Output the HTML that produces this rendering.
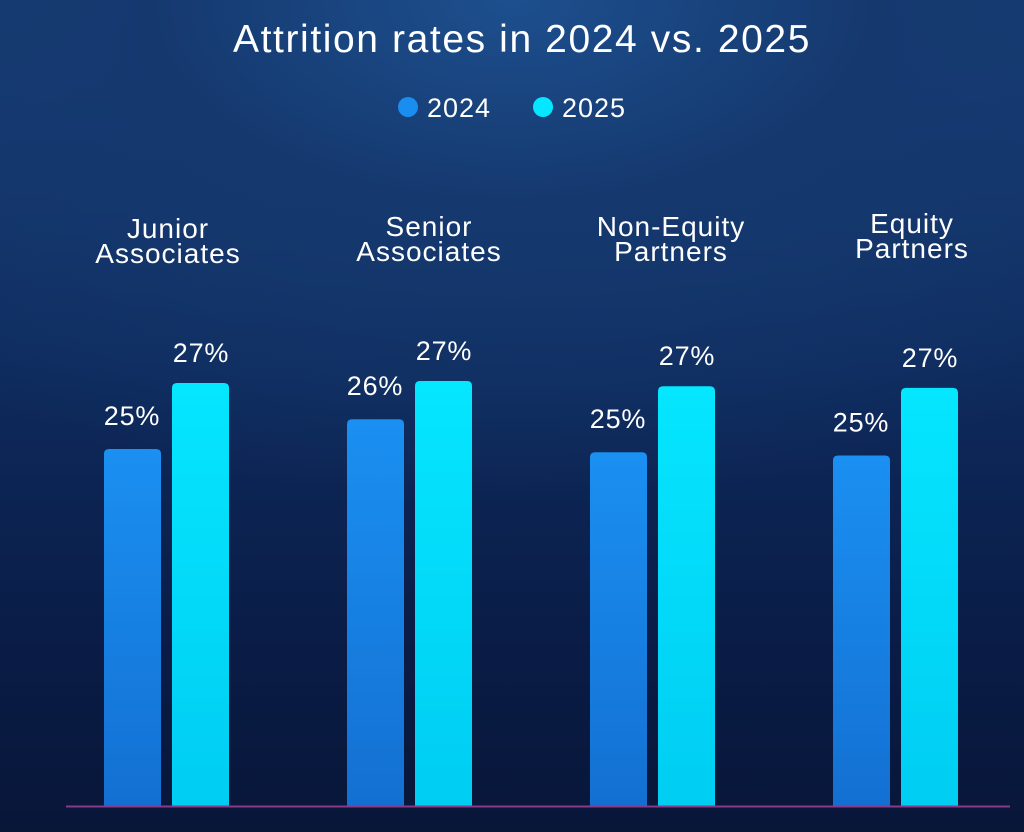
<!DOCTYPE html>
<html><head><meta charset="utf-8"><style>
html,body{margin:0;padding:0}
body{width:1024px;height:832px;overflow:hidden;font-family:"Liberation Sans",sans-serif;
background:radial-gradient(ellipse 900px 500px at 50% 0%,#1d4f8e 0%,#15396f 40%,rgba(10,26,64,0) 100%),linear-gradient(#163e78 0%,#0e2a5c 45%,#0a1d48 75%,#081638 100%);}
svg{position:absolute;left:0;top:0}
</style></head><body>
<svg width="1024" height="832">
<defs>
<linearGradient id="g24" x1="0" y1="0" x2="0" y2="1"><stop offset="0" stop-color="#1a90f2"/><stop offset="1" stop-color="#1370d2"/></linearGradient>
<linearGradient id="g25" x1="0" y1="0" x2="0" y2="1"><stop offset="0" stop-color="#05e6ff"/><stop offset="1" stop-color="#00cdf2"/></linearGradient>
</defs>
<text x="522" y="52" fill="#fff" font-size="39" letter-spacing="1.6" text-anchor="middle">Attrition rates in 2024 vs. 2025</text>
<g>
<circle cx="408" cy="107" r="10" fill="#1a8ef0"/>
<text x="427" y="117" fill="#fff" font-size="27" letter-spacing="1">2024</text>
<circle cx="543" cy="107" r="10" fill="#05e6ff"/>
<text x="562" y="117" fill="#fff" font-size="27" letter-spacing="1">2025</text>
</g>
<g id="plot"></g>
<line x1="66" y1="806.5" x2="1010" y2="806.5" stroke="#8a3a8a" stroke-width="2"/>
</svg>
<script>
const categories=[["Junior","Associates"],["Senior","Associates"],["Non-Equity","Partners"],["Equity","Partners"]];
const values2024=[25.0,25.9,24.9,24.8];
const values2025=[27.0,27.06,26.9,26.85];
const labels2024=["25%","26%","25%","25%"];
const labels2025=["27%","27%","27%","27%"];
const base=806, vmin=14.18, k=33;
const labelOffset=[64,82,81,79];
const labelTop=[238,236,236,233];
function y(v){return base-(v-vmin)*k;}
function x(i){return 104+i*243;}
const ns="http://www.w3.org/2000/svg";
const plot=document.getElementById('plot');
function bar(bx,v,fill,name){
  const t=y(v),w=57,r=5;
  const p=document.createElementNS(ns,'path');
  p.setAttribute('d',`M${bx},${base} V${t+r} Q${bx},${t} ${bx+r},${t} H${bx+w-r} Q${bx+w},${t} ${bx+w},${t+r} V${base} Z`);
  p.setAttribute('fill',fill);
  
  
  plot.appendChild(p);
}
function txt(tx,ty,s,size,ls,name){
  const e=document.createElementNS(ns,'text');
  e.setAttribute('x',tx);e.setAttribute('y',ty);e.setAttribute('fill','#fff');
  e.setAttribute('font-size',size);e.setAttribute('text-anchor','middle');
  e.setAttribute('letter-spacing',ls);
  e.textContent=s;
  
  
  plot.appendChild(e);
}
categories.forEach((c,i)=>{
  const bx=x(i);
  bar(bx,values2024[i],'url(#g24)','bar-2024-'+i);
  bar(bx+68,values2025[i],'url(#g25)','bar-2025-'+i);
  txt(bx+28,y(values2024[i])-24,labels2024[i],27,0.8,'value-label-2024-'+i);
  txt(bx+97,y(values2025[i])-21,labels2025[i],27,0.8,'value-label-2025-'+i);
  txt(bx+labelOffset[i],labelTop[i],c[0],28,1,'category-label-'+i+'-line1');
  txt(bx+labelOffset[i],labelTop[i]+25,c[1],28,1,'category-label-'+i+'-line2');
});
</script>
</body></html>
